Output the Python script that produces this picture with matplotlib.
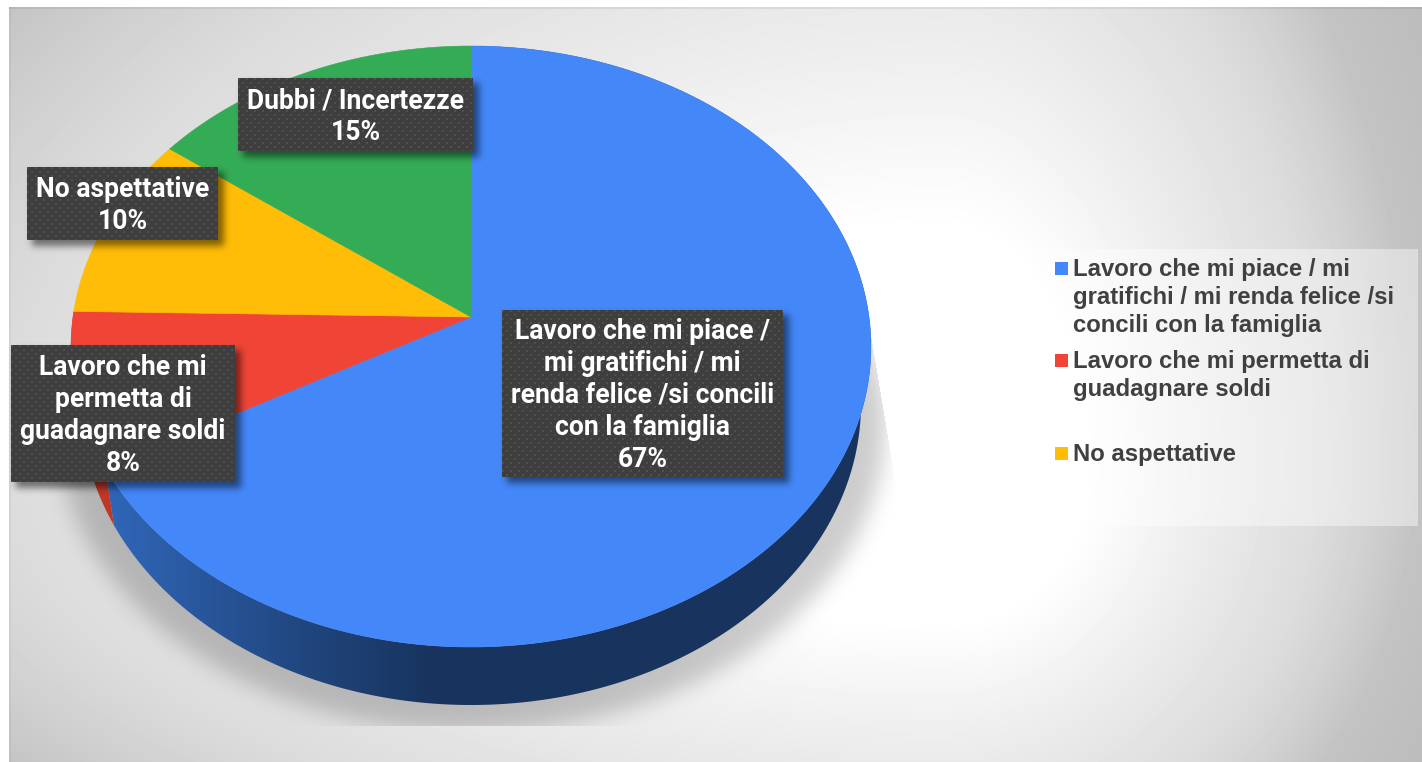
import numpy as np
import matplotlib
matplotlib.use("Agg")
import matplotlib.pyplot as plt
from matplotlib.patches import Polygon, Rectangle

# ---- data ----
categories = ["Lavoro che mi piace / mi gratifichi / mi renda felice /si concili con la famiglia",
              "Lavoro che mi permetta di guadagnare soldi",
              "No aspettative",
              "Dubbi / Incertezze"]
values = [67.0, 8.3, 9.9, 14.8]
label_lines = [["Lavoro che mi piace /", "mi gratifichi / mi", "renda felice /si concili", "con la famiglia"],
               ["Lavoro che mi", "permetta di", "guadagnare soldi"],
               ["No aspettative"],
               ["Dubbi / Incertezze"]]
legend_lines = [["Lavoro che mi piace / mi", "gratifichi / mi renda felice /si", "concili con la famiglia"],
                ["Lavoro che mi permetta di", "guadagnare soldi"],
                ["No aspettative"]]

# ---- style ----
colors = ["#4387F8", "#F04536", "#FFBD07", "#34AB55"]
W, H = 1422, 762
apex = (471.0, 317.0)
A, B, P = 297.6, 398.0, 0.0982
DEPTH, SHRINK = 58.0, 0.975
boxes = [(502, 310, 783, 477), (11, 345, 235, 482), (27, 167, 218, 240), (238, 78, 473, 151)]
line_step = 32
legend_rows = [[267, 295, 323], [359, 387], [452]]


def blur(a, s):
    fy = np.fft.fftfreq(a.shape[0])[:, None]
    fx = np.fft.rfftfreq(a.shape[1])[None, :]
    g = np.exp(-2 * (np.pi * s) ** 2 * (fx ** 2 + fy ** 2))
    return np.fft.irfft2(np.fft.rfft2(a) * g, s=a.shape)


def rim(th):
    """clockwise angle from 12 o'clock -> pixel point on the tilted disc"""
    u, v = np.sin(th), np.cos(th)
    w = 1 + P * v
    return B * u / w, -A * v / w


def wedge(a0, a1):
    th = np.linspace(a0, a1, 300)
    x, y = rim(th)
    return np.column_stack([np.r_[apex[0], apex[0] + x], np.r_[apex[1], apex[1] + y]])


def side(a0, a1):
    th = np.linspace(a0, a1, 300)
    x, y = rim(th)
    top = np.column_stack([apex[0] + x, apex[1] + y])
    bot = np.column_stack([apex[0] + x * SHRINK, apex[1] + y + DEPTH])
    return np.vstack([top, bot[::-1]])


# ---- background ----
yy, xx = np.mgrid[0:H, 0:W] + 0.5
cx, cy = 940.0, 470.0
nx = np.where(xx < cx, 0.85 * (cx - xx) / (cx - 9), 1.08 * (xx - cx) / (W - cx))
ny = np.where(yy < cy, (cy - yy) / (cy - 8), (yy - cy) / (H - cy))
t = np.sqrt(nx ** 2 + 0.4 * ny ** 2)
bg = np.interp(t, [0.33, 0.57, 0.85, 0.95, 1.07, 1.25], [255, 238, 220, 210, 195, 188]) / 255

# pie's cast shadow, clipped to a slanted quad
ell = (((xx - 471) / 414) ** 2 + ((yy - 425) / 306) ** 2 <= 1).astype(float)
sh = blur(ell, 11)
clip = (yy > 275) & (yy < 726)
clip &= xx < 862 + (yy - 280) * (38 / 230)
clip &= xx > 80 - (yy - 280) * (35 / 230)
bg = bg * (1 - 0.2 * np.clip(sh, 0, 1) * clip)

# frame edge and white margin
bg[:, 9:11] *= 0.96
bg[7:9, :] *= 0.93
bg[:, :9] = 1
bg[:7, :] = 1

fig = plt.figure(figsize=(W / 100, H / 100), dpi=100)
ax = fig.add_axes([0, 0, 1, 1])
ax.set_xlim(0, W)
ax.set_ylim(H, 0)
ax.axis("off")
ext = (0, W, H, 0)
ax.imshow(bg, extent=ext, cmap="gray", vmin=0, vmax=1, zorder=0, aspect="auto", interpolation="nearest")

# ---- pie ----
edges = 2 * np.pi * np.r_[0, np.cumsum(values)] / sum(values)

# side walls (only blue and red ones show)
side_stops = np.interp(np.arange(W), [110, 230, 330, 430], [0, 0.4, 0.72, 1])
c0, c1 = np.array([0x30, 0x66, 0xB8]) / 255, np.array([0x18, 0x34, 0x5E]) / 255
grad = (c0[None, :] * (1 - side_stops[:, None]) + c1[None, :] * side_stops[:, None])[None, :, :]
blue_side = Polygon(side(edges[0], edges[1]), closed=True, fc="none", ec="none", zorder=1)
ax.add_patch(blue_side)
im = ax.imshow(grad, extent=ext, zorder=1, aspect="auto", interpolation="bilinear")
im.set_clip_path(blue_side)
ax.add_patch(Polygon(side(edges[1], edges[2]), closed=True, fc="#BE3828", ec="none", zorder=1.1))

for i, c in enumerate(colors):
    ax.add_patch(Polygon(wedge(edges[i], edges[i + 1]), closed=True, fc=c, ec=c, lw=0.4, zorder=2))

# ---- data labels ----
mask = np.zeros((H, W))
for x0, y0, x1, y1 in boxes:
    mask[y0 + 5:y1 + 6, x0 + 5:x1 + 6] = 1
mask = blur(mask, 3.5)
sh_rgba = np.zeros((H, W, 4))
sh_rgba[..., 3] = np.clip(mask, 0, 1) * 0.5
ax.imshow(sh_rgba, extent=ext, zorder=3, aspect="auto", interpolation="nearest")

for (x0, y0, x1, y1), lines, v in zip(boxes, label_lines, values):
    h, w = y1 - y0, x1 - x0
    gy, gx = np.mgrid[0:h, 0:w]
    dots = ((gx % 8 < 2) & (gy % 8 < 2)) | (((gx + 4) % 8 < 2) & ((gy + 4) % 8 < 2))
    tile = np.where(dots, 0x4F, 0x3E) / 255
    ax.imshow(tile, extent=(x0, x1, y1, y0), cmap="gray", vmin=0, vmax=1, zorder=4,
              aspect="auto", interpolation="nearest")
    rows = lines + [f"{round(v)}%"]
    ym = (y0 + y1) / 2 - 1
    for k, s in enumerate(rows):
        ax.text((x0 + x1) / 2, ym + (k - (len(rows) - 1) / 2) * line_step, s, color="white",
                family="Roboto", weight="bold", fontsize=19.1, ha="center", va="center_baseline", zorder=5)

# ---- legend ----
ax.add_patch(Rectangle((1032, 249), 386, 277, fc="white", ec="none", alpha=0.42, zorder=1))
for rows, lines, c in zip(legend_rows, legend_lines, colors):
    ax.add_patch(Rectangle((1055, rows[0] - 5.5), 13, 13, fc=c, ec="none", zorder=2))
    for y, s in zip(rows, lines):
        ax.text(1073, y, s, color="#404040", family="Liberation Sans", weight="bold", fontsize=17.2,
                ha="left", va="center_baseline", zorder=2)

ax.set_xlim(0, W)
ax.set_ylim(H, 0)
fig.savefig("out.png", dpi=100)
